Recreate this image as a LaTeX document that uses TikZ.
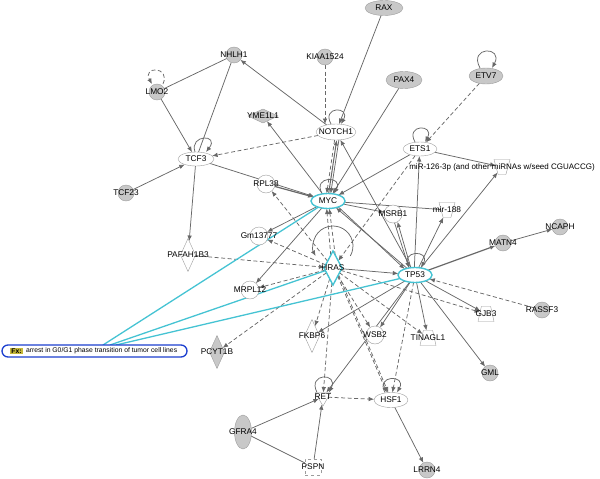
\documentclass[tikz,border=0pt]{standalone}
\usepackage{fontspec}
\setmainfont{Liberation Sans}
\usetikzlibrary{shapes.geometric,arrows.meta}
\definecolor{edgec}{HTML}{686868}
\definecolor{nodeg}{HTML}{C8C8C8}
\definecolor{borderc}{HTML}{9C9C9C}
\definecolor{cyanc}{HTML}{45C3D3}
\definecolor{fxblue}{HTML}{1C3FCF}
\definecolor{fxyel}{HTML}{C6B83A}
\pgfdeclarelayer{bg}
\pgfsetlayers{bg,main}
\begin{document}
\begin{tikzpicture}[x=1pt,y=-1pt,
  every node/.style={font=\fontsize{8.3}{9}\selectfont, inner sep=0pt, outer sep=0pt},
  every label/.style={font=\fontsize{8.3}{9}\selectfont, inner sep=0pt},
  gc/.style={circle,draw=borderc,fill=nodeg,minimum size=16pt},
  wc/.style={circle,draw=borderc,fill=white,minimum size=18pt},
  ge/.style={ellipse,draw=borderc,fill=nodeg,minimum width=36pt,minimum height=16pt},
  we/.style={ellipse,draw=borderc,fill=white,minimum width=36pt,minimum height=15pt},
  ce/.style={ellipse,draw=cyanc,line width=1.4pt,fill=white,minimum width=34pt,minimum height=15pt},
  vd/.style={diamond,draw=borderc,fill=white,minimum width=15pt,minimum height=33pt,aspect=0.45},
  gvd/.style={vd,fill=nodeg},
  trap/.style={trapezium,draw=borderc,fill=white,inner sep=2pt,trapezium stretches=true,trapezium left angle=70,trapezium right angle=70,minimum width=16pt,minimum height=15pt},
  mirna/.style={trap,shape border rotate=180,trapezium left angle=62,trapezium right angle=62},
  e/.style={draw=edgec, line width=0.75pt},
  arr/.style={e, -{Latex[length=5.5pt,width=4.5pt]}},
  darr/.style={arr, dash pattern=on 4pt off 2.5pt},
  dl/.style={e, dash pattern=on 4pt off 2.5pt},
  cy/.style={draw=cyanc, line width=1.3pt}
]
\useasboundingbox (0,0) rectangle (600,479);
% nodes
\node[ge,minimum width=38pt,minimum height=15pt,label=center:RAX] (RAX) at (384,8) {};
\node[gc,label=center:KIAA1524] (KIAA) at (325,57) {};
\node[gc,label=center:NHLH1] (NHLH1) at (234,55) {};
\node[ge,minimum width=36pt,minimum height=17pt,label=center:PAX4] (PAX4) at (404,80) {};
\node[ge,minimum width=34pt,label=center:ETV7] (ETV7) at (486,76) {};
\node[gc,label=center:LMO2] (LMO2) at (157,92) {};
\node[diamond,draw=borderc,fill=nodeg,minimum width=30pt,minimum height=14pt,label=center:YME1L1] (YME) at (263,116) {};
\node[we,minimum width=40pt,minimum height=16pt,label=center:NOTCH1] (NOTCH1) at (336,132) {};
\node[we,minimum width=34pt,minimum height=14pt,label=center:ETS1] (ETS1) at (420,149) {};
\node[we,minimum width=36pt,minimum height=14pt,label=center:TCF3] (TCF3) at (196,159) {};
\node[mirna,label={[font=\fontsize{8}{9}\selectfont]center:{miR-126-3p (and other miRNAs w/seed CGUACCG)}}] (MIR126) at (502,167) {};
\node[wc,label=center:RPL38] (RPL38) at (266,184) {};
\node[ce,label=center:MYC] (MYC) at (328,201) {};
\node[mirna,label=center:mir-188] (MIR188) at (447,210) {};
\node[wc,label=center:MSRB1] (MSRB1) at (393,214) {};
\node[gc,label=center:TCF23] (TCF23) at (126,193) {};
\node[wc,label=center:Gm13777] (GM) at (259,236) {};
\node[vd,label=center:PAFAH1B3] (PAF) at (188,255) {};
\node[diamond,draw=cyanc,line width=1.4pt,fill=white,minimum width=18pt,minimum height=34pt,aspect=0.5,label=center:HRAS] (HRAS) at (333,268) {};
\node[ce,label=center:TP53] (TP53) at (415,275) {};
\node[gc,label=center:MATN4] (MATN4) at (503,243) {};
\node[gc,label=center:NCAPH] (NCAPH) at (560,227) {};
\node[wc,label=center:MRPL12] (MRPL12) at (250,290) {};
\node[gc,label=center:RASSF3] (RASSF3) at (542,310) {};
\node[trap,label=center:GJB3] (GJB3) at (486,314) {};
\node[vd,label=center:FKBP6] (FKBP6) at (312,336) {};
\node[wc,label=center:WSB2] (WSB2) at (375,335) {};
\node[trap,label=center:TINAGL1] (TINAGL1) at (428,338) {};
\node[gvd,label=center:PCYT1B] (PCYT1B) at (217,352) {};
\node[gc,label=center:GML] (GML) at (490,373) {};
\node[regular polygon,regular polygon sides=3,shape border rotate=180,draw=borderc,fill=white,minimum size=18pt,label=center:RET] (RET) at (323,397) {};
\node[we,minimum width=34pt,minimum height=15pt,label=center:HSF1] (HSF1) at (391,400) {};
\node[ellipse,draw=borderc,fill=nodeg,minimum width=17pt,minimum height=34pt,label=center:GFRA4] (GFRA4) at (243,432) {};
\node[rectangle,draw=borderc,dashed,fill=white,minimum size=16pt,label=center:PSPN] (PSPN) at (313,467) {};
\node[gc,label=center:LRRN4] (LRRN4) at (427,470) {};
% Fx box
\node[draw=fxblue,line width=1.3pt,rounded corners=6pt,fill=white,minimum width=185pt,minimum height=12pt] (FX) at (94.5,351) {};
\node[fill=fxyel,inner sep=1pt,font=\bfseries\fontsize{6.8}{8}\selectfont] (FXL) at (16.5,351) {Fx:};
\node[anchor=west,font=\fontsize{6.8}{8}\selectfont] (FXT) at (26,351) {arrest in G0/G1 phase transition of tumor cell lines};

\begin{pgfonlayer}{bg}
% self loops
\draw[arr] ([xshift=-5pt]NOTCH1.north) .. controls +(-10pt,18pt) and +(10pt,18pt) .. ([xshift=5pt]NOTCH1.north);
\draw[arr] ([xshift=-5pt]ETS1.north) .. controls +(-10pt,18pt) and +(10pt,18pt) .. ([xshift=5pt]ETS1.north);
\draw[arr] ([xshift=-6pt]ETV7.north) .. controls +(-12pt,22pt) and +(12pt,22pt) .. ([xshift=6pt]ETV7.north);
\draw[arr] ([xshift=-1pt]TCF3.north) .. controls +(-6pt,18pt) and +(14pt,18pt) .. ([xshift=10pt]TCF3.north);
\draw[darr] ([xshift=6pt]LMO2.north) .. controls +(8pt,18pt) and +(-10pt,18pt) .. ([xshift=-5pt]LMO2.north);
\draw[arr] ([xshift=-6pt]MYC.north) .. controls +(-10pt,18pt) and +(10pt,18pt) .. ([xshift=6pt]MYC.north);
\draw[arr] ([xshift=-6pt]TP53.north) .. controls +(-10pt,18pt) and +(10pt,18pt) .. ([xshift=6pt]TP53.north);
\draw[arr] ([xshift=-6pt]HSF1.north) .. controls +(-10pt,18pt) and +(10pt,18pt) .. ([xshift=6pt]HSF1.north);
\draw[arr] ([xshift=-6pt]RET.north) .. controls +(-10pt,20pt) and +(10pt,20pt) .. ([xshift=6pt]RET.north);
\draw[arr] (350.3,256) arc[start angle=-30,end angle=210,radius=20pt];
% solid plain
\draw[e] (NHLH1) -- (LMO2);
\draw[e] (NHLH1) -- (TCF3);
\draw[e] (MYC) -- (MIR188);
\draw[e] (GFRA4) -- (PSPN);
% solid arrows
\draw[arr] (LMO2) -- (TCF3);
\draw[arr] (NOTCH1) -- (NHLH1);
\draw[arr] (RAX) -- (NOTCH1);
\draw[arr] (PAX4) -- (MYC);
\draw[arr] (MYC) -- (YME);
\draw[arr] (TCF23) -- (TCF3);
\draw[arr] (TCF3) -- (PAF);
\draw[arr] (TCF3) -- (MYC);
\draw[arr,line width=1.2pt] (RPL38) -- (MYC);
\draw[arr] (ETS1) -- (MYC);
\draw[arr] (TP53.95) -- (ETS1.-95);
\draw[arr] (ETS1) -- (MIR126);
\draw[arr] (TP53) -- (MIR126);
\draw[arr] (TP53) -- (MIR188);
\draw[arr] (TP53) -- (NOTCH1);
\draw[arr,line width=1pt] (MYC.85) -- (NOTCH1.-85);
\draw[arr] (NOTCH1.-70) -- (MYC.70);
\draw[arr] (MYC.-30) -- (TP53.150);
\draw[arr] (TP53.140) -- (MYC.-40);
\draw[arr] (MYC) -- (GM);
\draw[arr] (MYC) -- (MRPL12);
\draw[arr] (MYC) -- (MSRB1);
\draw[arr] (TP53.120) -- (MSRB1.-60);
\draw[arr] (MSRB1.-80) -- (TP53.130);
\draw[arr] (HRAS) -- (TP53);
\draw[arr,line width=1.2pt] (TP53) -- (MATN4);
\draw[arr] (MATN4) -- (NCAPH);
\draw[arr] (TP53) -- (GJB3);
\draw[arr] (TP53) -- (TINAGL1);
\draw[arr] (TP53) -- (GML);
\draw[arr] (TP53) -- (FKBP6);
\draw[arr] (TP53) -- (WSB2);
\draw[arr] (TP53) -- (RET);
\draw[arr] (GFRA4) -- (RET);
\draw[arr] (PSPN) -- (RET);
\draw[arr] (HSF1) -- (LRRN4);
% dashed arrows
\draw[darr] (KIAA) -- (NOTCH1.north -| KIAA);
\draw[darr] (NOTCH1.-100) -- (MYC.100);
\draw[darr] (NOTCH1) -- (TCF3);
\draw[darr] (ETV7) -- (ETS1);
\draw[darr] (ETS1) -- (HRAS);
\draw[darr] (HRAS.100) -- (MYC.-100);
\draw[darr] (HRAS.80) -- (MYC.-80);
\draw[darr] (HRAS) -- (RPL38);
\draw[darr] (HRAS) -- (GM);
\draw[darr] (HRAS) -- (MRPL12);
\draw[darr] (PAF) -- (HRAS);
\draw[darr] (HRAS) -- (PCYT1B);
\draw[darr] (HRAS) -- (FKBP6);
\draw[darr] (HRAS) -- (WSB2);
\draw[darr] (HRAS) -- (TINAGL1);
\draw[darr] (HRAS) -- (GJB3);
\draw[darr] (HRAS.-60) -- (HSF1.120);
\draw[darr] (HRAS.-50) -- (HSF1.110);
\draw[darr] (HRAS) -- (RET);
\draw[darr] (RASSF3) -- (TP53);
\draw[darr] (RET) -- (HSF1);
\draw[darr] (TP53) -- (HSF1);
% cyan links
\draw[cy] ([xshift=8.5pt]FX.north) -- (MYC);
\draw[cy] ([xshift=15.5pt]FX.north) -- (HRAS);
\draw[cy] ([xshift=21.5pt]FX.north) -- (TP53);
\end{pgfonlayer}
\end{tikzpicture}
\end{document}
